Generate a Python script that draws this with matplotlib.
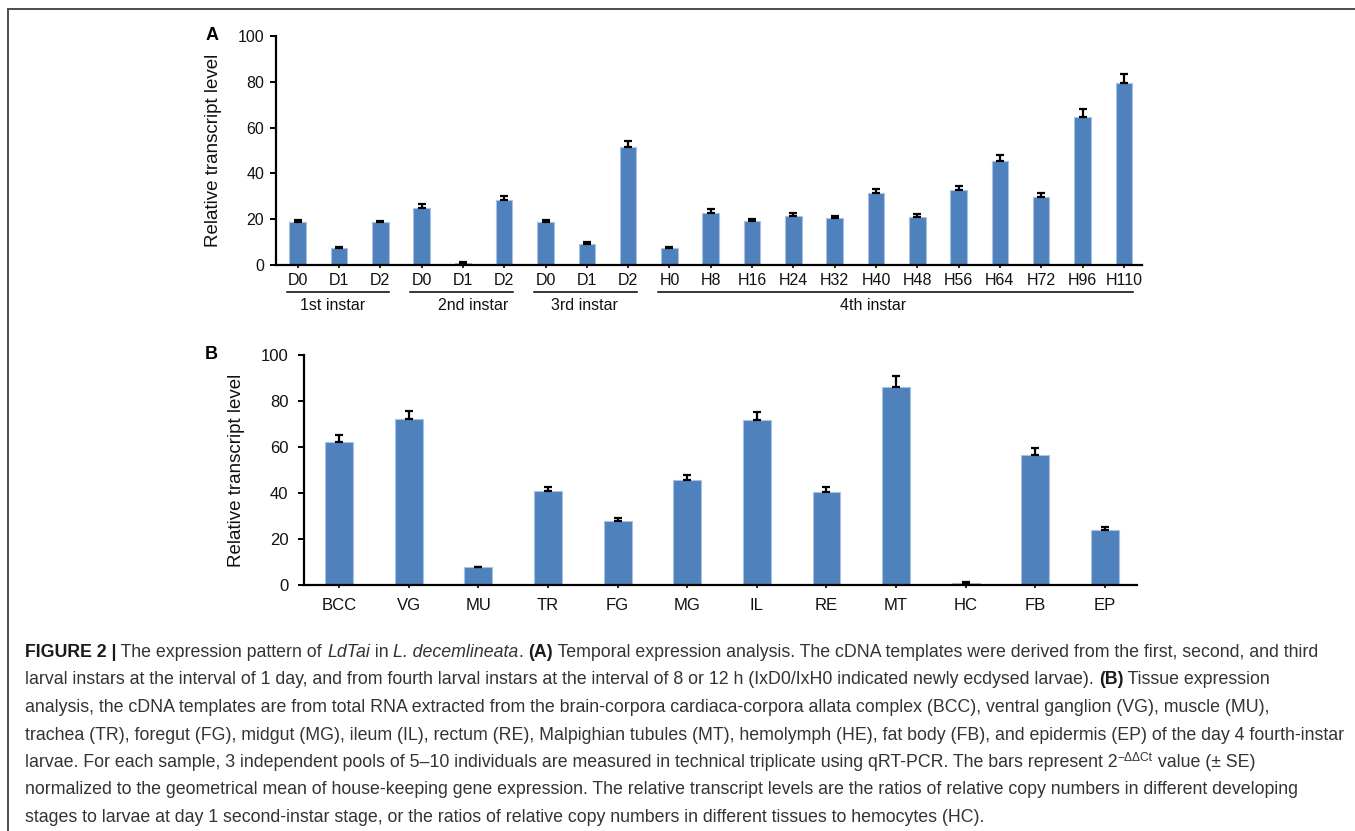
import matplotlib
matplotlib.use('Agg')
import matplotlib.pyplot as plt
from matplotlib.lines import Line2D
import numpy as np

SANS = ['Liberation Sans', 'DejaVu Sans']

# (A) developmental time course
stage_labels = ['D0', 'D1', 'D2', 'D0', 'D1', 'D2', 'D0', 'D1', 'D2',
                'H0', 'H8', 'H16', 'H24', 'H32', 'H40', 'H48', 'H56', 'H64',
                'H72', 'H96', 'H110']
stage_values = [18.6, 7.3, 18.6, 25.0, 1.0, 28.6, 18.9, 9.0, 51.6,
                7.3, 22.8, 19.2, 21.5, 20.5, 31.5, 21.1, 32.6, 45.6,
                29.9, 64.8, 79.4]
stage_err = [0.9, 0.4, 0.6, 1.5, 0.3, 1.5, 0.9, 0.9, 2.6,
             0.5, 1.5, 1.0, 1.0, 1.0, 1.8, 1.1, 1.7, 2.4,
             1.6, 3.5, 4.0]
instar_names = ['1st instar', '2nd instar', '3rd instar', '4th instar']
instar_sizes = [3, 3, 3, 12]

# (B) tissues
tissue_labels = ['BCC', 'VG', 'MU', 'TR', 'FG', 'MG', 'IL', 'RE', 'MT', 'HC', 'FB', 'EP']
tissue_values = [62.4, 72.1, 7.7, 40.8, 28.0, 45.7, 71.7, 40.3, 86.4, 0.9, 56.5, 24.1]
tissue_err = [3.1, 3.8, 0.3, 2.0, 1.3, 2.3, 3.8, 2.5, 4.5, 0.3, 3.2, 1.2]

W, H = 1355, 831
fig = plt.figure(figsize=(W / 100, H / 100), dpi=100)
fig.patch.set_facecolor('white')


def axes_px(left, top, right, bottom):
    return fig.add_axes([left / W, 1 - bottom / H, (right - left) / W, (bottom - top) / H])


def bar_panel(ax, labels, values, err, xlim, size, ypad):
    x = np.arange(len(values))
    ax.bar(x, values, width=0.4, color='#4f81bd', edgecolor='#a9c2e3',
           linewidth=0.8, zorder=2)
    ax.errorbar(x, values, yerr=[np.zeros(len(err)), err], fmt='none',
                ecolor='black', elinewidth=1.6, capsize=2.8, capthick=1.6, zorder=3)
    ax.set_xlim(*xlim)
    ax.set_ylim(0, 100)
    ax.set_yticks(range(0, 101, 20))
    ax.set_xticks(x)
    ax.set_xticklabels(labels)
    for s in ['top', 'right']:
        ax.spines[s].set_visible(False)
    for s in ['left', 'bottom']:
        ax.spines[s].set_linewidth(1.6)
        ax.spines[s].set_color('black')
    ax.tick_params(axis='y', length=4.5, width=1.4, pad=ypad)
    ax.tick_params(axis='x', length=2, width=1.2, pad=4)
    for lab in ax.get_xticklabels() + ax.get_yticklabels():
        lab.set_family(SANS)
        lab.set_fontsize(size)
        lab.set_color('#111111')
    ax.set_ylabel('Relative transcript level', family=SANS, fontsize=13.5,
                  color='#111111')
    ax.patch.set_alpha(0)


axA = axes_px(276, 36, 1142, 265)
bar_panel(axA, stage_labels, stage_values, stage_err, (-0.525, 20.44), 11.5, 4)
axA.yaxis.set_label_coords(-0.062, 0.5)

# instar brackets under the stage labels
shift = [-0.15, 0.24, -0.07, -0.58]
start = 0
for name, n, dx in zip(instar_names, instar_sizes, shift):
    end = start + n - 1
    axA.plot([start - 0.27, end + 0.22], [-0.117, -0.117], color='black', lw=1.1,
             transform=axA.get_xaxis_transform(), clip_on=False)
    axA.text((start + end) / 2 + dx, -0.175, name, ha='center', va='center',
             family=SANS, fontsize=11.5, color='#111111',
             transform=axA.get_xaxis_transform())
    start += n

axB = axes_px(304.3, 355.3, 1137, 585)
bar_panel(axB, tissue_labels, tissue_values, tissue_err, (-0.5, 11.46), 12, 7)
axB.tick_params(axis='x', pad=7)
axB.yaxis.set_label_coords(-0.071, 0.5)

fig.text(212 / W, 1 - 35 / H, 'A', family=SANS, weight='bold', fontsize=13,
         ha='center', va='center')
fig.text(211 / W, 1 - 355 / H, 'B', family=SANS, weight='bold', fontsize=13,
         ha='center', va='center')

# frame lines
fig.add_artist(Line2D([8 / W, 8 / W], [0, 1 - 8.5 / H], color='#4d4d4d', lw=1.4))
fig.add_artist(Line2D([8 / W, 1], [1 - 8.5 / H, 1 - 8.5 / H], color='#4d4d4d', lw=1.4))

# caption, drawn run by run so bold/italic pieces line up
caption = [
    [('FIGURE 2 |', 'b'), (' The expression pattern of ', 'n'), ('LdTai', 'i'), (' in ', 'n'),
     ('L. decemlineata', 'i'), ('. ', 'n'), ('(A)', 'b'),
     (' Temporal expression analysis. The cDNA templates were derived from the first, second, and third', 'n')],
    [('larval instars at the interval of 1 day, and from fourth larval instars at the interval of 8 or 12 h '
      '(IxD0/IxH0 indicated newly ecdysed larvae). ', 'n'), ('(B)', 'b'), (' Tissue expression', 'n')],
    [('analysis, the cDNA templates are from total RNA extracted from the brain-corpora cardiaca-corpora '
      'allata complex (BCC), ventral ganglion (VG), muscle (MU),', 'n')],
    [('trachea (TR), foregut (FG), midgut (MG), ileum (IL), rectum (RE), Malpighian tubules (MT), hemolymph '
      '(HE), fat body (FB), and epidermis (EP) of the day 4 fourth-instar', 'n')],
    [('larvae. For each sample, 3 independent pools of 5\u201310 individuals are measured in technical '
      'triplicate using qRT-PCR. The bars represent 2', 'n'), ('\u2212\u0394\u0394Ct', 's'),
     (' value (\u00b1 SE)', 'n')],
    [('normalized to the geometrical mean of house-keeping gene expression. The relative transcript levels '
      'are the ratios of relative copy numbers in different developing', 'n')],
    [('stages to larvae at day 1 second-instar stage, or the ratios of relative copy numbers in different '
      'tissues to hemocytes (HC).', 'n')],
]

cap_size = 12.75
renderer = fig.canvas.get_renderer()


def run_kw(kind):
    kw = dict(family=SANS, fontsize=cap_size, color='#333333', va='baseline')
    if kind == 'b':
        kw['weight'] = 'bold'
        kw['color'] = '#1a1a1a'
    elif kind == 'i':
        kw['style'] = 'italic'
    elif kind == 's':
        kw['fontsize'] = cap_size * 0.68
    return kw


def run_width(txt, kw):
    a = fig.text(0, 0, '|' + txt + '|', **kw)
    b = fig.text(0, 0, '||', **kw)
    w = a.get_window_extent(renderer).width - b.get_window_extent(renderer).width
    a.remove()
    b.remove()
    return w


y0 = 657
for i, line in enumerate(caption):
    x = 25
    y = y0 + i * 27.5
    for txt, kind in line:
        kw = run_kw(kind)
        dy = -6 if kind == 's' else 0
        fig.text(x / W, 1 - (y + dy) / H, txt, **kw)
        x += run_width(txt, kw)

fig.savefig('out.png', dpi=100, facecolor='white')
